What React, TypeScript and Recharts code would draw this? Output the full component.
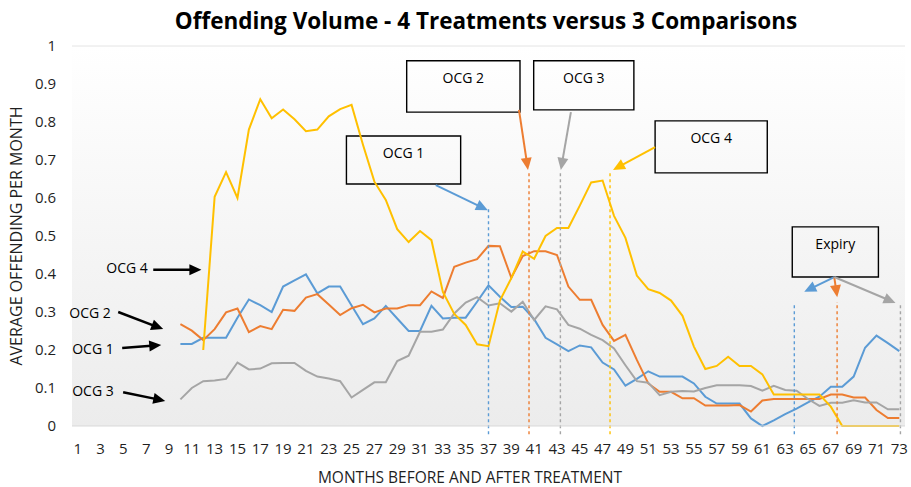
import React from "react";
import { LineChart, Line, XAxis, YAxis, CartesianGrid, ReferenceLine, ReferenceArea } from "recharts";

// months before/after treatment
const months = Array.from({ length: 73 }, (_, i) => i + 1);
const monthTicks = months.filter((m) => m % 2 === 1);
const valueTicks = [0, 0.1, 0.2, 0.3, 0.4, 0.5, 0.6, 0.7, 0.8, 0.9, 1];

// OCG 1 (blue), months 10-73
const ocg1 = [
  0.216, 0.216, 0.232, 0.232, 0.232, 0.285, 0.333, 0.318, 0.3, 0.367,
  0.383, 0.399, 0.349, 0.367, 0.367, 0.317, 0.268, 0.283, 0.316, 0.283,
  0.25, 0.25, 0.316, 0.283, 0.285, 0.285, 0.327, 0.37, 0.34, 0.313,
  0.314, 0.281, 0.232, 0.215, 0.197, 0.212, 0.207, 0.167, 0.149, 0.106,
  0.124, 0.144, 0.13, 0.13, 0.13, 0.112, 0.077, 0.059, 0.059, 0.059,
  0.02, 0.0, 0.015, 0.031, 0.046, 0.062, 0.077, 0.103, 0.103, 0.13,
  0.206, 0.238, 0.218, 0.197,
];
// OCG 2 (orange), months 10-73
const ocg2 = [
  0.268, 0.251, 0.226, 0.255, 0.299, 0.309, 0.247, 0.263, 0.255, 0.306,
  0.303, 0.338, 0.347, 0.32, 0.292, 0.31, 0.319, 0.299, 0.309, 0.309,
  0.318, 0.318, 0.354, 0.337, 0.419, 0.43, 0.439, 0.474, 0.473, 0.39,
  0.447, 0.46, 0.46, 0.45, 0.367, 0.332, 0.332, 0.266, 0.224, 0.24,
  0.174, 0.112, 0.09, 0.09, 0.073, 0.073, 0.054, 0.054, 0.054, 0.055,
  0.038, 0.067, 0.071, 0.071, 0.071, 0.071, 0.071, 0.083, 0.083, 0.075,
  0.075, 0.042, 0.021, 0.021,
];
// OCG 3 (grey), months 10-73
const ocg3 = [
  0.07, 0.1, 0.118, 0.12, 0.124, 0.167, 0.149, 0.151, 0.165, 0.166,
  0.166, 0.145, 0.13, 0.125, 0.118, 0.075, 0.095, 0.115, 0.115, 0.171,
  0.185, 0.248, 0.248, 0.254, 0.296, 0.325, 0.339, 0.317, 0.323, 0.301,
  0.327, 0.279, 0.315, 0.307, 0.266, 0.256, 0.24, 0.226, 0.204, 0.16,
  0.118, 0.114, 0.081, 0.09, 0.092, 0.091, 0.1, 0.107, 0.107, 0.107,
  0.105, 0.093, 0.106, 0.095, 0.093, 0.071, 0.053, 0.061, 0.061, 0.068,
  0.062, 0.062, 0.044, 0.044,
];
// OCG 4 (yellow), months 12-73
const ocg4 = [
  0.2, 0.603, 0.668, 0.6, 0.78, 0.86, 0.81, 0.833, 0.807, 0.776,
  0.78, 0.815, 0.834, 0.845, 0.74, 0.643, 0.595, 0.518, 0.484, 0.513,
  0.489, 0.353, 0.295, 0.266, 0.215, 0.21, 0.33, 0.389, 0.459, 0.44,
  0.5, 0.521, 0.521, 0.58, 0.641, 0.646, 0.553, 0.495, 0.396, 0.36,
  0.35, 0.33, 0.29, 0.209, 0.15, 0.158, 0.182, 0.158, 0.158, 0.136,
  0.083, 0.083, 0.083, 0.083, 0.083, 0.051, 0, 0, 0, 0,
  0, 0,
];
const ocg123Start = 10;
const ocg4Start = 12;

const BLUE = "#5B9BD5";
const ORANGE = "#ED7D31";
const GREY = "#A5A5A5";
const YELLOW = "#FFC000";

const data = months.map((m) => ({
  month: m,
  ocg1: m >= ocg123Start ? ocg1[m - ocg123Start] : null,
  ocg2: m >= ocg123Start ? ocg2[m - ocg123Start] : null,
  ocg3: m >= ocg123Start ? ocg3[m - ocg123Start] : null,
  ocg4: m >= ocg4Start ? ocg4[m - ocg4Start] : null,
}));

// annotation layout, in chart units (month, value)
const markerLines = [
  { x: 37, top: 0.576, color: BLUE },
  { x: 40.55, top: 0.668, color: ORANGE },
  { x: 43.3, top: 0.668, color: GREY },
  { x: 47.65, top: 0.666, color: YELLOW },
  { x: 63.8, top: 0.321, color: BLUE },
  { x: 67.55, top: 0.326, color: ORANGE },
  { x: 73.1, top: 0.324, color: GREY },
];
const boxes = [
  { text: "OCG 1", x1: 24.55, x2: 34.56, y1: 0.637, y2: 0.763 },
  { text: "OCG 2", x1: 29.83, x2: 39.76, y1: 0.826, y2: 0.961 },
  { text: "OCG 3", x1: 40.96, x2: 49.74, y1: 0.832, y2: 0.961 },
  { text: "OCG 4", x1: 51.6, x2: 61.43, y1: 0.666, y2: 0.803 },
  { text: "Expiry", x1: 63.62, x2: 71.17, y1: 0.392, y2: 0.524 },
];
const arrows = [
  { from: [32.38, 0.634], to: [36.94, 0.568], color: BLUE, w: 2 },
  { from: [39.67, 0.832], to: [40.46, 0.674], color: ORANGE, w: 2 },
  { from: [44.22, 0.826], to: [43.34, 0.674], color: GREY, w: 2 },
  { from: [51.6, 0.734], to: [47.91, 0.674], color: YELLOW, w: 2 },
  { from: [67.3, 0.392], to: [64.67, 0.353], color: BLUE, w: 2 },
  { from: [67.3, 0.392], to: [67.56, 0.339], color: ORANGE, w: 2 },
  { from: [67.3, 0.392], to: [72.67, 0.324], color: GREY, w: 2 },
  { from: [7.62, 0.411], to: [11.84, 0.411], color: "#000", w: 2.5 },
  { from: [4.55, 0.3], to: [8.49, 0.255], color: "#000", w: 2.5 },
  { from: [4.9, 0.205], to: [8.32, 0.213], color: "#000", w: 2.5 },
  { from: [4.98, 0.089], to: [8.67, 0.066], color: "#000", w: 2.5 },
];
const sideLabels = [
  { text: "OCG 4", x: 5.33, y: 0.416 },
  { text: "OCG 2", x: 2.08, y: 0.297 },
  { text: "OCG 1", x: 2.34, y: 0.203 },
  { text: "OCG 3", x: 2.34, y: 0.092 },
];

function Arrow(props: any) {
  const { x1, y1, x2, y2, color, w } = props;
  const dx = x2 - x1;
  const dy = y2 - y1;
  const len = Math.sqrt(dx * dx + dy * dy) || 1;
  const ux = dx / len;
  const uy = dy / len;
  const head = 12;
  const half = 5.5;
  const bx = x2 - ux * head;
  const by = y2 - uy * head;
  const pts = `${x2},${y2} ${bx - uy * half},${by + ux * half} ${bx + uy * half},${by - ux * half}`;
  return (
    <g>
      <line x1={x1} y1={y1} x2={bx + ux * 2} y2={by + uy * 2} stroke={color} strokeWidth={w} />
      <polygon points={pts} fill={color} />
    </g>
  );
}

const font = "'Open Sans', sans-serif";
const textColor = "#1f1f1f";

export default function App() {
  return (
    <div style={{ position: "relative", width: 911, height: 487, fontFamily: font, background: "#fff" }}>
      <style>{"body{margin:0}"}</style>
      <div
        style={{
          position: "absolute",
          left: 0,
          width: 972,
          top: 8,
          lineHeight: "26px",
          textAlign: "center",
          fontSize: 22.5,
          fontWeight: 700,
          color: "#000",
        }}
      >
        Offending Volume - 4 Treatments versus 3 Comparisons
      </div>
      <div
        style={{
          position: "absolute",
          left: 16,
          top: 236,
          transform: "translate(-50%, -50%) rotate(-90deg)",
          whiteSpace: "nowrap",
          fontSize: 16,
          color: textColor,
        }}
      >
        AVERAGE OFFENDING PER MONTH
      </div>
      <div
        style={{
          position: "absolute",
          left: 0,
          width: 940,
          top: 469,
          height: 17,
          lineHeight: "17px",
          textAlign: "center",
          fontSize: 15.5,
          color: textColor,
        }}
      >
        MONTHS BEFORE AND AFTER TREATMENT
      </div>
      <LineChart width={911} height={487} data={data} margin={{ top: 46, right: 6, bottom: 0, left: 0 }}>
        <defs>
          <linearGradient id="plotBg" x1="0" y1="0" x2="0" y2="1">
            <stop offset="0%" stopColor="#ffffff" />
            <stop offset="100%" stopColor="#ececec" />
          </linearGradient>
        </defs>
        <CartesianGrid horizontal={false} vertical={false} fill="url(#plotBg)" />
        <XAxis
          dataKey="month"
          type="number"
          domain={[0.5, 73.5]}
          ticks={monthTicks}
          interval={0}
          height={61}
          tickLine={false}
          axisLine={{ stroke: "#d9d9d9" }}
          tickMargin={11}
          tick={{ fontSize: 15, fill: textColor }}
          allowDataOverflow
        />
        <YAxis
          type="number"
          domain={[0, 1]}
          ticks={valueTicks}
          interval={0}
          width={72}
          axisLine={false}
          tickLine={false}
          tickMargin={10}
          tick={{ fontSize: 15, fill: textColor }}
          tickFormatter={(v: number) => String(Math.round(v * 10) / 10)}
        />
        <ReferenceLine y={1} stroke="#e4e4e4" />
        <Line dataKey="ocg1" stroke={BLUE} strokeWidth={2} dot={false} isAnimationActive={false} />
        <Line dataKey="ocg2" stroke={ORANGE} strokeWidth={2} dot={false} isAnimationActive={false} />
        <Line dataKey="ocg3" stroke={GREY} strokeWidth={2} dot={false} isAnimationActive={false} />
        <Line dataKey="ocg4" stroke={YELLOW} strokeWidth={2} dot={false} isAnimationActive={false} />
        {markerLines.map((l, i) => (
          <ReferenceLine
            key={"m" + i}
            segment={[
              { x: l.x, y: -0.022 },
              { x: l.x, y: l.top },
            ]}
            stroke={l.color}
            strokeWidth={1.4}
            strokeDasharray="3 3"
            ifOverflow="visible"
          />
        ))}
        {boxes.map((b, i) => (
          <ReferenceArea
            key={"b" + i}
            x1={b.x1}
            x2={b.x2}
            y1={b.y1}
            y2={b.y2}
            stroke="#000"
            strokeWidth={1.4}
            fill="none"
            fillOpacity={0}
            strokeOpacity={1}
            ifOverflow="visible"
            label={{ value: b.text, position: "insideTop", offset: 12, fontSize: 14, fill: "#000" }}
          />
        ))}
        {arrows.map((a, i) => (
          <ReferenceLine
            key={"a" + i}
            segment={[
              { x: a.from[0], y: a.from[1] },
              { x: a.to[0], y: a.to[1] },
            ]}
            ifOverflow="visible"
            shape={(p: any) => <Arrow {...p} color={a.color} w={a.w} />}
          />
        ))}
        {sideLabels.map((s, i) => (
          <ReferenceArea
            key={"s" + i}
            x1={s.x - 1}
            x2={s.x + 1}
            y1={s.y - 0.01}
            y2={s.y + 0.01}
            stroke="none"
            fill="none"
            fillOpacity={0}
            ifOverflow="visible"
            label={{ value: s.text, position: "center", fontSize: 14, fill: "#000" }}
          />
        ))}
      </LineChart>
    </div>
  );
}
